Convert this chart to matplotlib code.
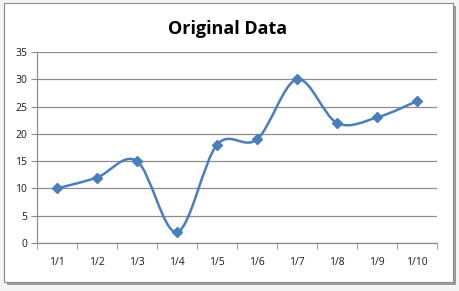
import matplotlib
matplotlib.use("Agg")
from matplotlib import pyplot as plt
from matplotlib.patches import Rectangle, PathPatch
from matplotlib.path import Path

categories = ["1/1", "1/2", "1/3", "1/4", "1/5", "1/6", "1/7", "1/8", "1/9", "1/10"]
values = [10, 12, 15, 2, 18, 19, 30, 22, 23, 26]

line_color = "#4a7ebb"
grid_color = "#8c8c8c"

plt.rcParams["font.family"] = ["Open Sans", "DejaVu Sans"]

fig = plt.figure(figsize=(4.6, 2.91), dpi=100)
fig.patch.set_facecolor("#f4f4f4")

# chart frame like the spreadsheet chart object, with a drop shadow
fig.patches.append(Rectangle((7 / 460, 6 / 291), 449 / 460, 279 / 291, transform=fig.transFigure,
                             facecolor="#9a9a9a", edgecolor="none", zorder=-2))
fig.patches.append(Rectangle((4 / 460, 9 / 291), 449 / 460, 279 / 291, transform=fig.transFigure,
                             facecolor="white", edgecolor="#8a8a8a", linewidth=0.8, zorder=-1))

ax = fig.add_axes([37 / 460, 48 / 291, 400 / 460, 191 / 291])
ax.set_facecolor("none")
ax.set_zorder(1)

x = list(range(len(values)))

# smoothed line (cardinal spline through the points, like Excel's smooth line)
verts = [(x[0], values[0])]
codes = [Path.MOVETO]
n = len(values)
for i in range(n - 1):
    p0 = (x[max(i - 1, 0)], values[max(i - 1, 0)])
    p1 = (x[i], values[i])
    p2 = (x[i + 1], values[i + 1])
    p3 = (x[min(i + 2, n - 1)], values[min(i + 2, n - 1)])
    c1 = (p1[0] + (p2[0] - p0[0]) / 6, p1[1] + (p2[1] - p0[1]) / 6)
    c2 = (p2[0] - (p3[0] - p1[0]) / 6, p2[1] - (p3[1] - p1[1]) / 6)
    verts += [c1, c2, p2]
    codes += [Path.CURVE4] * 3
ax.add_patch(PathPatch(Path(verts, codes), facecolor="none", edgecolor=line_color,
                       linewidth=1.8, zorder=3, capstyle="round"))
ax.plot(x, values, linestyle="none", marker="D", markersize=5.5, color=line_color, zorder=4)

ax.set_xlim(-0.5, n - 0.5)
ax.set_ylim(0, 35)
ax.set_yticks(range(0, 36, 5))
ax.set_xticks(x)
ax.set_xticklabels(categories)
ax.set_xticks([i - 0.5 for i in range(n + 1)], minor=True)

ax.grid(axis="y", color=grid_color, linewidth=0.9)
ax.set_axisbelow(True)
for side in ["top", "right"]:
    ax.spines[side].set_visible(False)
for side in ["left", "bottom"]:
    ax.spines[side].set_color(grid_color)
    ax.spines[side].set_linewidth(0.9)

ax.tick_params(axis="y", length=4, color=grid_color, labelsize=7.5, pad=3, labelcolor="#1a1a1a")
ax.tick_params(axis="x", which="major", length=0, labelsize=7.5, pad=10, labelcolor="#1a1a1a")
ax.tick_params(axis="x", which="minor", length=4, color=grid_color)

fig.text(228 / 460, 262 / 291, "Original Data", ha="center", va="center",
         fontsize=13, fontweight="bold", color="black")

fig.savefig("out.png", dpi=100, facecolor=fig.get_facecolor())
